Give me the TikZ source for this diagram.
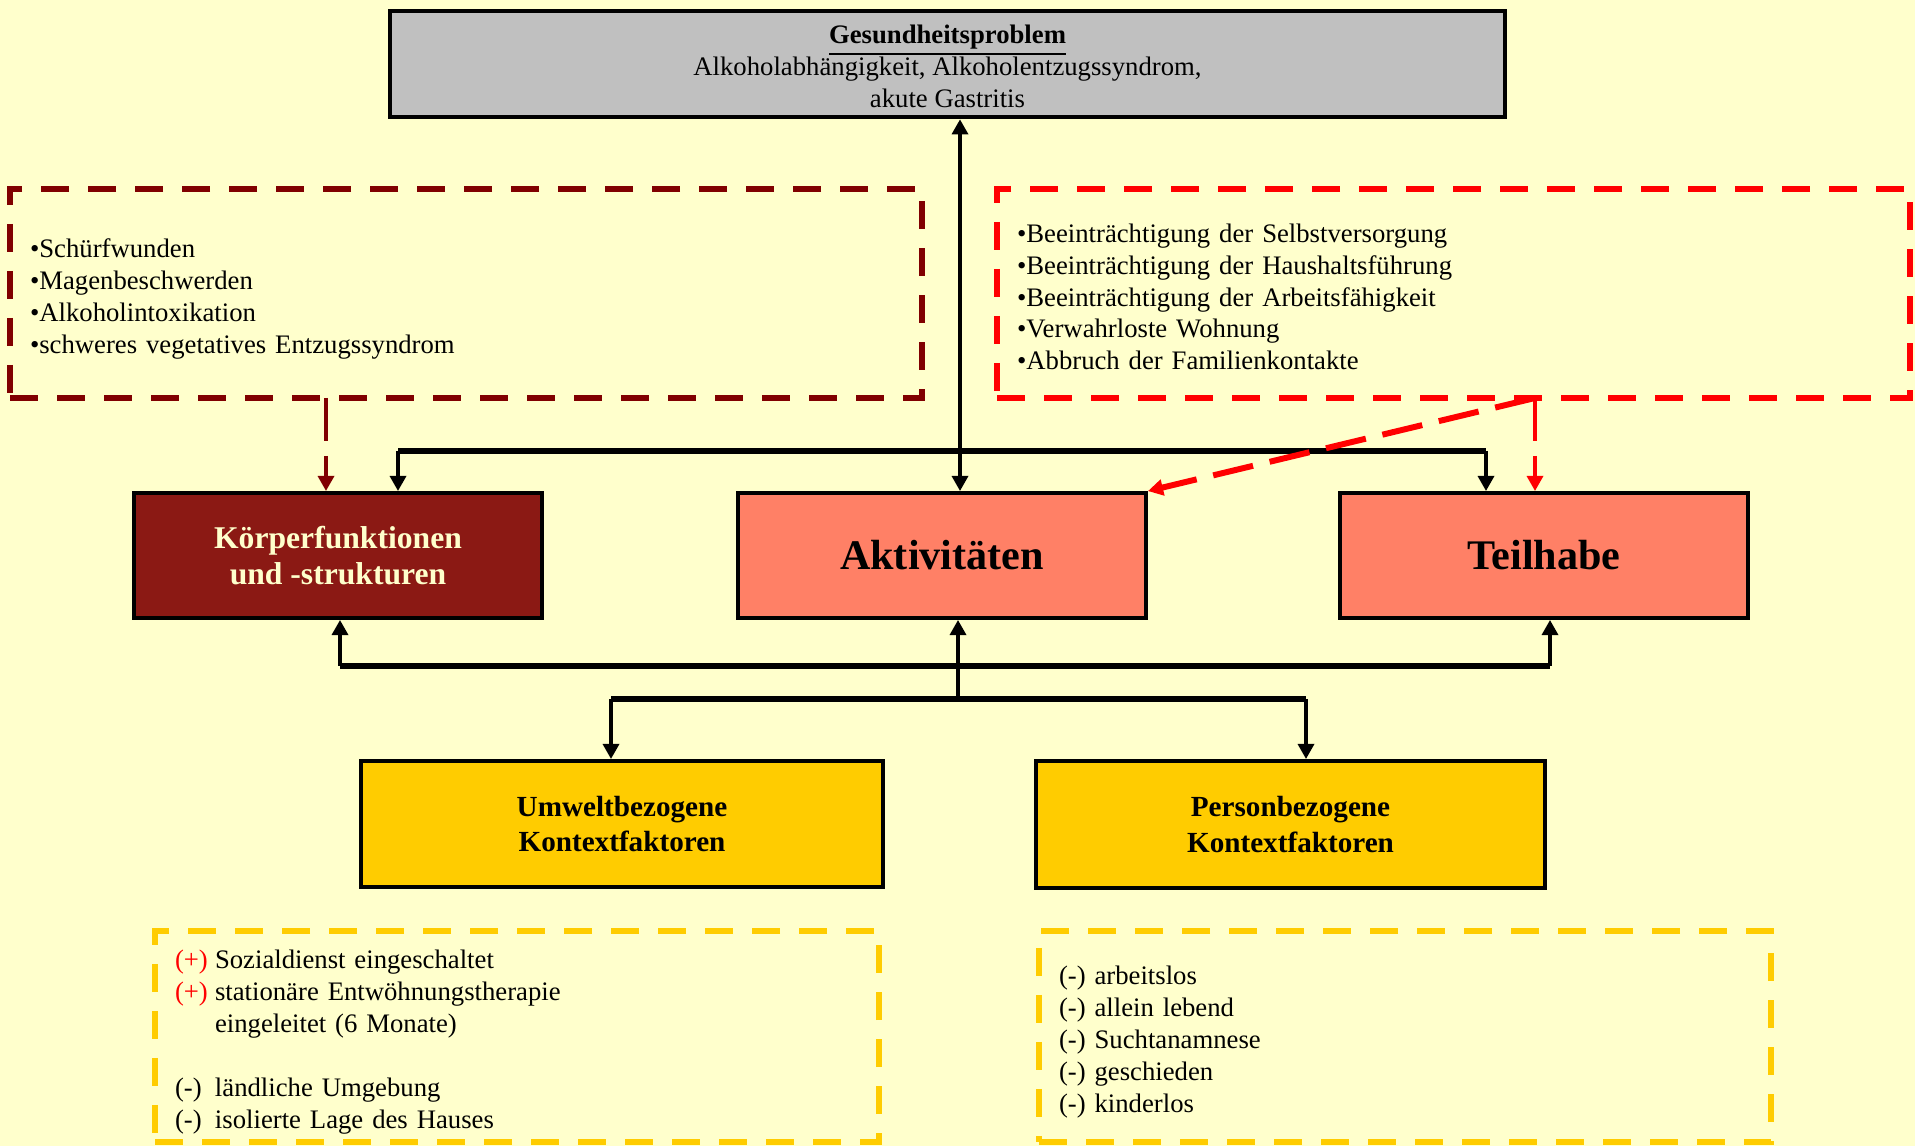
\documentclass[tikz,border=0pt]{standalone}
\usepackage{fontspec}
\setmainfont{Liberation Serif}
\usetikzlibrary{arrows.meta}

\definecolor{hgrund}{HTML}{FFFFCC}
\definecolor{grau}{HTML}{C0C0C0}
\definecolor{koerperrot}{HTML}{8B1914}
\definecolor{lachs}{HTML}{FF8066}
\definecolor{gold}{HTML}{FFCC00}
\definecolor{dunkelrot}{HTML}{800000}
\definecolor{rot}{HTML}{FF0000}

\newcommand{\normaltext}{\fontsize{7.6}{9.1}\selectfont}
\newcommand{\oben}[1]{\rule{0pt}{#1}}

\begin{document}
\begin{tikzpicture}[x=0.1mm, y=-0.1mm, >={Triangle[length=4.3pt,width=4.5pt]},
  box/.style={draw=black, line width=1.1pt, inner sep=0pt, align=center,
    minimum width=40.8mm, minimum height=12.5mm},
  note/.style={line width=1.7pt, dash pattern=on 2.8mm off 1.9mm, inner xsep=2mm,
    inner ysep=0pt, align=left, font=\normaltext},
  line/.style={line width=1.4pt, ->},
  bus/.style={line width=1.5pt},
  hinweis/.style={line, dash pattern=on 4.3mm off 1.5mm}]

\fill[hgrund] (0,0) rectangle (1915,1146);
\useasboundingbox (0,0) rectangle (1915,1146);

% Gesundheitsproblem
\node[box, fill=grau, line width=1.3pt, minimum width=111.5mm, minimum height=10.6mm,
  font=\normaltext] (problem) at (947.5,64)
  {\oben{6.6pt}\underline{\textbf{Gesundheitsproblem}}\\ Alkoholabh\"angigkeit, Alkoholentzugssyndrom,\\ akute Gastritis};

% Komponenten
\node[box, fill=koerperrot, text=hgrund, font=\bfseries\fontsize{9}{10.2}\selectfont]
  (koerper) at (338,555.5) {K\"orperfunktionen\\ und -strukturen};
\node[box, fill=lachs, font=\bfseries\fontsize{12}{14}\selectfont]
  (aktiv) at (942,555.5) {Aktivit\"aten};
\node[box, fill=lachs, font=\bfseries\fontsize{12}{14}\selectfont]
  (teilhabe) at (1544,555.5) {Teilhabe};

% Kontextfaktoren
\node[box, fill=gold, minimum width=52.2mm, minimum height=12.6mm,
  font=\bfseries\fontsize{8.3}{10}\selectfont] (umwelt) at (622,824)
  {Umweltbezogene\\ Kontextfaktoren};
\node[box, fill=gold, minimum width=50.9mm, minimum height=12.7mm,
  font=\bfseries\fontsize{8.3}{10}\selectfont] (person) at (1290.5,824.5)
  {Personbezogene\\ Kontextfaktoren};

% Befunde
\node[note, draw=dunkelrot, minimum width=91.2mm, minimum height=20.9mm, text width=87.2mm]
  (koerperbox) at (466,293.5)
  {\oben{8.6pt}\textbullet Sch\"urfwunden\\ \textbullet Magenbeschwerden\\ \textbullet Alkoholintoxikation\\
   \textbullet schweres vegetatives Entzugssyndrom};
\node[note, draw=rot, minimum width=91.3mm, minimum height=20.9mm, text width=87.3mm]
  (teilbox) at (1453.5,293.5)
  {\oben{7.2pt}\textbullet Beeintr\"achtigung der Selbstversorgung\\
   \textbullet Beeintr\"achtigung der Haushaltsf\"uhrung\\
   \textbullet Beeintr\"achtigung der Arbeitsf\"ahigkeit\\
   \textbullet Verwahrloste Wohnung\\ \textbullet Abbruch der Familienkontakte};
\node[note, draw=gold, minimum width=72.4mm, minimum height=21.1mm, text width=68.4mm]
  (umweltbox) at (517,1036.5)
  {\oben{8.6pt}\makebox[4mm][l]{\color{rot}(+)}Sozialdienst eingeschaltet\\
   \makebox[4mm][l]{\color{rot}(+)}station\"are Entw\"ohnungstherapie\\
   \makebox[4mm][l]{}eingeleitet (6 Monate)\\[9.1pt]
   \makebox[4mm][l]{(-)}l\"andliche Umgebung\\
   \makebox[4mm][l]{(-)}isolierte Lage des Hauses};
\node[note, draw=gold, minimum width=73.2mm, minimum height=21.1mm, text width=69.2mm]
  (personbox) at (1405,1036.5)
  {\oben{8.6pt}(-) arbeitslos\\ (-) allein lebend\\ (-) Suchtanamnese\\ (-) geschieden\\ (-) kinderlos};

\coordinate (mitte) at (960,0);
\coordinate (tl) at (398,451);
\coordinate (tr) at (1486,451);
\coordinate (bl) at (340,666);
\coordinate (br) at (1550,666);
\coordinate (bm) at (958,699);
\coordinate (ul) at (611,699);
\coordinate (ur) at (1306,699);
\coordinate (kb) at (326,398);
\coordinate (tb) at (1535,398);

%\draw[step=100, color=black!10] (0,0) grid (1915,1146);
\draw[line, <->] (problem.south -| mitte) -- (aktiv.north -| mitte);
\draw[bus] (tl) -- (tr);
\draw[line] (tl) -- (tl |- koerper.north);
\draw[line] (tr) -- (tr |- teilhabe.north);

\draw[bus] (bl) -- (br);
\draw[line] (bl) -- (bl |- koerper.south);
\draw[line] (br) -- (br |- teilhabe.south);
\draw[line] (bm) -- (bm |- aktiv.south);
\draw[bus] (ul) -- (ur);
\draw[line] (ul) -- (ul |- umwelt.north);
\draw[line] (ur) -- (ur |- person.north);

\draw[hinweis, dunkelrot] (kb) -- (kb |- koerper.north);
\draw[hinweis, rot] (tb) -- (tb |- teilhabe.north);
\draw[hinweis, rot, line width=1.7pt, dash pattern=on 4.1mm off 1.7mm] (tb) -- (aktiv.north east);

\end{tikzpicture}
\end{document}
